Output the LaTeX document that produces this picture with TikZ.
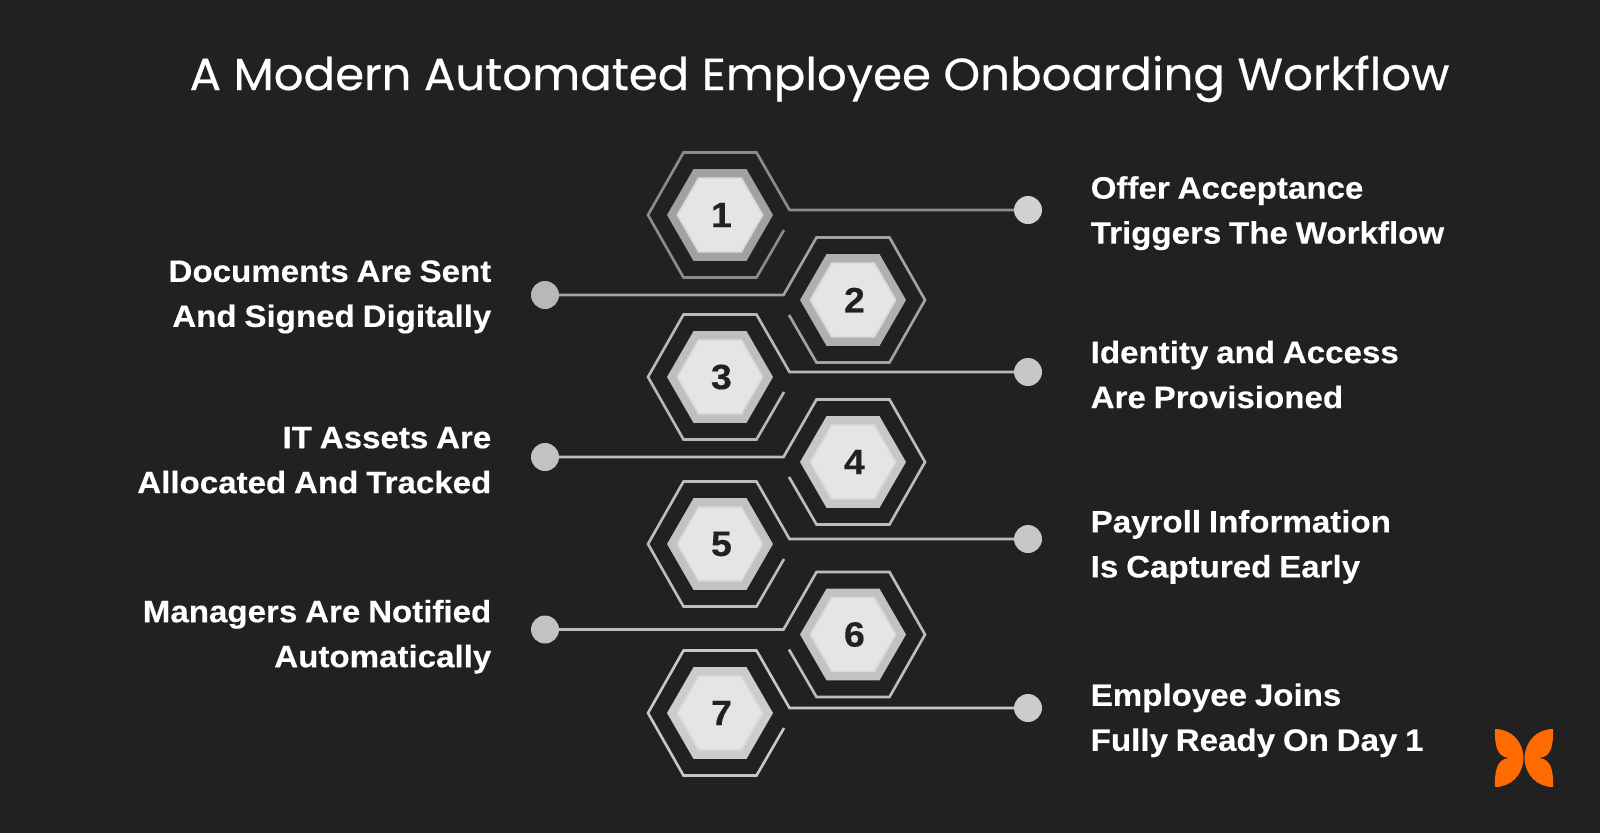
\documentclass[tikz,border=0pt]{standalone}
\usepackage{fontspec}
\setmainfont{Liberation Sans}
\newfontfamily\titlefont[FakeBold=0.45, FakeStretch=1.038]{Poppins}
\newfontfamily\labelfont[BoldFeatures={FakeBold=0.3, FakeStretch=1.07}, WordSpace=0.85]{Liberation Sans}
\usetikzlibrary{calc,shapes.geometric}
\definecolor{sheetbg}{HTML}{212121}
\definecolor{logoorange}{HTML}{FF6B00}
\tikzset{
	hexmid/.style={regular polygon, regular polygon sides=6, minimum size=1.06cm, inner sep=0pt, outer sep=0pt},
	hexcore/.style={regular polygon, regular polygon sides=6, minimum size=0.85cm, inner sep=0pt, fill=black!10, draw=black!14, line width=0.5pt, text=sheetbg, execute at begin node=\hspace*{0.8pt}, font=\labelfont\bfseries\fontsize{10}{10}\selectfont},
	hexdot/.style={circle, minimum size=0.28cm, inner sep=0pt, outer sep=0pt},
	frameline/.style={line width=0.75pt, line join=miter},
	stepright/.style={anchor=west, align=left, inner sep=0pt, text=white, font=\labelfont\bfseries\fontsize{8.8}{12.8}\selectfont},
	stepleft/.style={anchor=east, align=right, inner sep=0pt, text=white, font=\labelfont\bfseries\fontsize{8.8}{12.8}\selectfont}
}
\def\oddframe#1#2{\draw[frameline, color=#2] (dot#1) -- ($(hex#1)+(0.695,0.05)$) -- ($(hex#1)+(0.365,0.625)$) -- ($(hex#1)+(-0.365,0.625)$) -- ($(hex#1)+(-0.72,0)$) -- ($(hex#1)+(-0.365,-0.625)$) -- ($(hex#1)+(0.365,-0.625)$) -- ($(hex#1)+(0.64,-0.15)$);}
\def\evenframe#1#2{\draw[frameline, color=#2] (dot#1) -- ($(hex#1)+(-0.695,0.05)$) -- ($(hex#1)+(-0.365,0.625)$) -- ($(hex#1)+(0.365,0.625)$) -- ($(hex#1)+(0.72,0)$) -- ($(hex#1)+(0.365,-0.625)$) -- ($(hex#1)+(-0.365,-0.625)$) -- ($(hex#1)+(-0.64,-0.15)$);}
\begin{document}
\begin{tikzpicture}
	%%%%% START %%%%%
	\fill[sheetbg] (0, 0) rectangle (16, 8.33);
	
	\node[anchor=base, text=white, font=\titlefont\fontsize{12.8}{14}\selectfont] (title) at (8.195, 7.43) {A Modern Automated Employee Onboarding Workflow};
	
	\node[hexmid, fill=black!37] (hex1) at (7.2, 6.18) {};
	\node[hexcore] (core1) at (hex1) {1};
	\node[hexdot, fill=black!18] (dot1) at (10.28, 6.23) {};
	\oddframe{1}{black!45}
	\node[stepright] (label1) at (10.90, 6.198) {Offer Acceptance\\Triggers The Workflow};
	
	\node[hexmid, fill=black!31] (hex2) at (8.53, 5.33) {};
	\node[hexcore] (core2) at (hex2) {2};
	\node[hexdot, fill=black!28] (dot2) at (5.45, 5.38) {};
	\evenframe{2}{black!36}
	\node[stepleft] (label2) at (4.92, 5.361) {Documents Are Sent\\And Signed Digitally};
	
	\node[hexmid, fill=black!25] (hex3) at (7.2, 4.56) {};
	\node[hexcore] (core3) at (hex3) {3};
	\node[hexdot, fill=black!22] (dot3) at (10.28, 4.61) {};
	\oddframe{3}{black!28}
	\node[stepright] (label3) at (10.90, 4.585) {Identity and Access\\Are Provisioned};
	
	\node[hexmid, fill=black!22] (hex4) at (8.53, 3.71) {};
	\node[hexcore] (core4) at (hex4) {4};
	\node[hexdot, fill=black!24] (dot4) at (5.45, 3.76) {};
	\evenframe{4}{black!26}
	\node[stepleft] (label4) at (4.92, 3.728) {IT Assets Are\\Allocated And Tracked};
	
	\node[hexmid, fill=black!24] (hex5) at (7.2, 2.89) {};
	\node[hexcore] (core5) at (hex5) {5};
	\node[hexdot, fill=black!22] (dot5) at (10.28, 2.94) {};
	\oddframe{5}{black!26}
	\node[stepright] (label5) at (10.90, 2.861) {Payroll Information\\Is Captured Early};
	
	\node[hexmid, fill=black!24] (hex6) at (8.53, 1.985) {};
	\node[hexcore] (core6) at (hex6) {6};
	\node[hexdot, fill=black!24] (dot6) at (5.45, 2.035) {};
	\evenframe{6}{black!26}
	\node[stepleft] (label6) at (4.92, 1.963) {Managers Are Notified\\Automatically};
	
	\node[hexmid, fill=black!20] (hex7) at (7.2, 1.2) {};
	\node[hexcore] (core7) at (hex7) {7};
	\node[hexdot, fill=black!20] (dot7) at (10.28, 1.25) {};
	\oddframe{7}{black!22}
	\node[stepright] (label7) at (10.90, 1.127) {Employee Joins\\Fully Ready On Day 1};
	
	% logo
	\begin{scope}[shift={(15.24, 0.75)}]
		\fill[logoorange] (-0.29, 0.29) .. controls (-0.13, 0.29) and (-0.01, 0.17) .. (-0.005, 0) .. controls (-0.01, -0.17) and (-0.13, -0.29) .. (-0.29, -0.29) .. controls (-0.295, -0.12) and (-0.27, -0.01) .. (-0.15, 0) .. controls (-0.27, 0.01) and (-0.295, 0.12) .. (-0.29, 0.29) -- cycle;
		\fill[logoorange] (0.29, 0.29) .. controls (0.13, 0.29) and (0.01, 0.17) .. (0.005, 0) .. controls (0.01, -0.17) and (0.13, -0.29) .. (0.29, -0.29) .. controls (0.295, -0.12) and (0.27, -0.01) .. (0.15, 0) .. controls (0.27, 0.01) and (0.295, 0.12) .. (0.29, 0.29) -- cycle;
	\end{scope}
	%%%%% END %%%%%
\end{tikzpicture}
\end{document}
